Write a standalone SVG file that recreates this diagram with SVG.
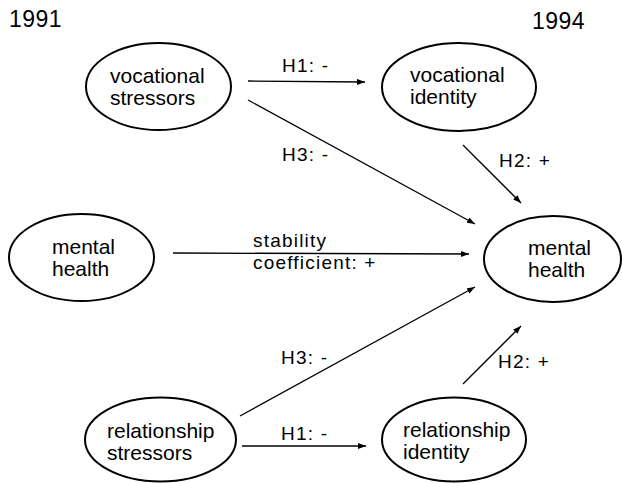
<svg xmlns="http://www.w3.org/2000/svg" width="622" height="483" viewBox="0 0 622 483">
<style>
  .node { fill: #fff; stroke: #000; stroke-width: 2; }
  .nt { font-family: "Liberation Sans", Arial, sans-serif; font-size: 21px; fill: #000; }
  .lb { font-family: "Liberation Sans", Arial, sans-serif; font-size: 19px; letter-spacing: 1.2px; fill: #000; }
  .yr { font-family: "Liberation Sans", Arial, sans-serif; font-size: 23px; letter-spacing: 0.5px; fill: #000; }
  .edge { stroke: #000; stroke-width: 1.3; fill: none; marker-end: url(#arr); }
</style>
<defs>
  <marker id="arr" markerUnits="userSpaceOnUse" markerWidth="9" markerHeight="7" refX="8" refY="3" orient="auto">
    <path d="M0,0 L8,3 L0,6 z" fill="#000"/>
  </marker>
</defs>
<rect width="622" height="483" fill="#fff"/>
<text class="yr" x="9" y="27">1991</text>
<text class="yr" x="532" y="29">1994</text>

<g id="connectors">
  <line class="edge" x1="248" y1="81" x2="365" y2="82"/>
  <line class="edge" x1="248" y1="100" x2="475" y2="224"/>
  <line class="edge" x1="463" y1="145" x2="521" y2="203"/>
  <line class="edge" x1="173" y1="253" x2="469" y2="254"/>
  <line class="edge" x1="240" y1="416" x2="475" y2="287"/>
  <line class="edge" x1="463" y1="384" x2="521" y2="326"/>
  <line class="edge" x1="242" y1="446" x2="366" y2="446"/>
  <text class="lb" x="282" y="72" xml:space="preserve">H1: -</text>
  <text class="lb" x="282" y="161" xml:space="preserve">H3: -</text>
  <text class="lb" x="499" y="167" xml:space="preserve">H2: +</text>
  <text class="lb" x="253" y="247">stability</text>
  <text class="lb" x="253" y="269" xml:space="preserve">coefficient: +</text>
  <text class="lb" x="281" y="364" xml:space="preserve">H3: -</text>
  <text class="lb" x="498" y="368" xml:space="preserve">H2: +</text>
  <text class="lb" x="281" y="440" xml:space="preserve">H1: -</text>
</g>

<g id="voc_stressors">
  <ellipse class="node" cx="158.5" cy="86.5" rx="72.5" ry="43.5"/>
  <text class="nt" x="110" y="83">vocational</text>
  <text class="nt" x="110" y="105">stressors</text>
</g>
<g id="voc_identity">
  <ellipse class="node" cx="459" cy="87" rx="77" ry="44"/>
  <text class="nt" x="410" y="82">vocational</text>
  <text class="nt" x="410" y="104">identity</text>
</g>
<g id="mental_1991">
  <ellipse class="node" cx="81.5" cy="257.5" rx="72.5" ry="43.5"/>
  <text class="nt" x="52" y="254">mental</text>
  <text class="nt" x="52" y="276">health</text>
</g>
<g id="mental_1994">
  <ellipse class="node" cx="552.5" cy="259" rx="68.5" ry="43"/>
  <text class="nt" x="528" y="255">mental</text>
  <text class="nt" x="528" y="277">health</text>
</g>
<g id="rel_stressors">
  <ellipse class="node" cx="160.5" cy="439.5" rx="75.5" ry="42"/>
  <text class="nt" x="107" y="438">relationship</text>
  <text class="nt" x="107" y="460">stressors</text>
</g>
<g id="rel_identity">
  <ellipse class="node" cx="454" cy="439.5" rx="72" ry="42"/>
  <text class="nt" x="403" y="437">relationship</text>
  <text class="nt" x="403" y="459">identity</text>
</g>
</svg>
